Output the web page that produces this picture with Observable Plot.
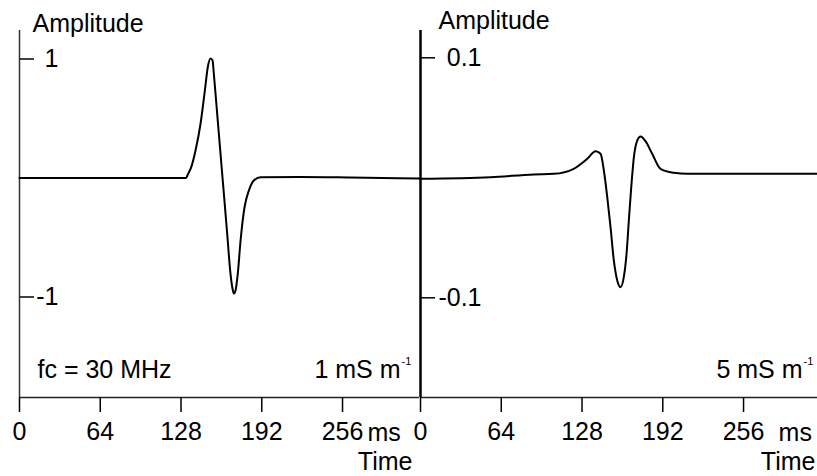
<!DOCTYPE html>
<html><head><meta charset="utf-8">
<script src="https://cdn.jsdelivr.net/npm/d3@7"></script>
<script src="https://cdn.jsdelivr.net/npm/@observablehq/plot@0.6"></script>
<style>
body{margin:0;background:#fff;}
#chart{position:relative;width:817px;height:476px;overflow:hidden;background:#fff;}
#chart svg{position:absolute;top:0;}
</style></head><body><div id="chart"></div>
<script>
// ---- data ----
const xTicks = [0, 64, 128, 192, 256];
const timeUnit = "ms";
const axisTitleY = "Amplitude";
const axisTitleX = "Time";

const leftTime = [0, 64.2, 103.8, 132.0, 133.4, 136.1, 139.5, 143.5, 146.9, 149.2, 151.4, 153.0, 154.0, 156.1, 158.0, 160.1, 162.5, 164.6, 167.2, 168.8, 169.9, 171.2, 173.0, 175.2, 178.3, 181.8, 185.7, 191.0, 222.7, 262.3, 317];
const leftAmp  = [0, 0, 0, 0, 0.03, 0.091, 0.231, 0.458, 0.735, 0.931, 1.004, 0.987, 0.878, 0.611, 0.37, 0.103, -0.2, -0.47, -0.803, -0.929, -0.971, -0.945, -0.803, -0.525, -0.248, -0.105, -0.021, 0.007, 0.008, 0.004, -0.004];
const leftYTicks = [-1, 1];
const leftNote = "fc = 30 MHz";
const leftCond = "1 mS m";

const rightTime = [0, 55.5, 89.8, 105.6, 121.4, 132.1, 138.7, 142.7, 145.3, 148.0, 150.6, 153.2, 155.9, 158.5, 161.1, 163.3, 165.1, 167.0, 169.1, 171.8, 174.4, 178.3, 183.6, 190.2, 200.8, 211.4, 314.6];
const rightAmp  = [-0.0008, 0.0005, 0.0028, 0.0033, 0.0075, 0.0158, 0.0222, 0.02, 0.0061, -0.0162, -0.0412, -0.0689, -0.0856, -0.0912, -0.0828, -0.0631, -0.0356, -0.0078, 0.0172, 0.0311, 0.0344, 0.0305, 0.02, 0.0075, 0.0042, 0.0033, 0.0033];
const rightYTicks = [-0.1, 0.1];
const rightCond = "5 mS m";
const condExp = "-1";

const font = "'Liberation Sans', Arial, Helvetica, sans-serif";

function panel(o) {
  const svg = Plot.plot({
    width: o.width, height: 476,
    marginTop: 30, marginBottom: 79, marginLeft: o.marginLeft, marginRight: o.marginRight,
    x: {domain: [0, o.xMax], axis: null},
    y: {domain: o.yDomain, axis: null},
    style: {fontFamily: font, fontSize: "25px", background: "transparent", overflow: "visible", color: "black"},
    marks: [
      Plot.ruleY([o.yDomain[0]], {stroke: "#222", strokeWidth: 1.5}),
      Plot.ruleX([0], {stroke: o.axisColor, strokeWidth: o.axisWidth}),
      Plot.axisX({ticks: xTicks, tickSize: 15, tickPadding: 10, strokeWidth: 1.5, label: null, tickFormat: d => String(d)}),
      Plot.axisY({anchor: "right", frameAnchor: "left", ticks: o.yTicks, tickSize: 14, tickPadding: o.yPad, textAnchor: "end", strokeWidth: 1.5, label: null, tickFormat: d => String(d)}),
      Plot.line(o.amp, {x: o.time, y: o.amp, stroke: "black", strokeWidth: 2, curve: "monotone-x"}),
      Plot.text([axisTitleY], {text: d => d, frameAnchor: "top-left", textAnchor: "start", lineAnchor: "bottom", dx: o.ampDx, dy: o.ampDy}),
      Plot.text([timeUnit], {text: d => d, x: xTicks[xTicks.length - 1], frameAnchor: "bottom", textAnchor: "start", lineAnchor: "bottom", dx: o.msDx, dy: 43}),
      Plot.text([axisTitleX], {text: d => d, frameAnchor: "bottom-right", textAnchor: "end", lineAnchor: "bottom", dx: o.timeDx, dy: o.timeDy}),
      o.note ? Plot.text([o.note], {text: d => d, frameAnchor: "bottom-left", textAnchor: "start", lineAnchor: "bottom", dx: 18, dy: -20}) : null,
      Plot.text([o.cond], {text: d => d, frameAnchor: "bottom-right", textAnchor: "end", lineAnchor: "bottom", dx: o.condDx, dy: -20}),
      Plot.text([condExp], {text: d => d, frameAnchor: "bottom-right", textAnchor: "start", lineAnchor: "bottom", dx: o.condDx + 1, dy: -33, fontSize: 11})
    ]
  });
  svg.style.left = o.left + "px";
  return svg;
}

const chart = document.getElementById("chart");
chart.appendChild(panel({
  left: 0, width: 420, marginLeft: 19, marginRight: 1, xMax: 317,
  time: leftTime, amp: leftAmp, yTicks: leftYTicks, yDomain: [-1.8445, 1.2395],
  axisColor: "#333", axisWidth: 1.5, yPad: 25,
  ampDx: 13, ampDy: 1, msDx: 25, timeDx: -7, timeDy: 72,
  note: leftNote, cond: leftCond, condDx: -19
}));
chart.appendChild(panel({
  left: 400, width: 417, marginLeft: 20, marginRight: 0, xMax: 314.6,
  time: rightTime, amp: rightAmp, yTicks: rightYTicks, yDomain: [-0.18308, 0.12275],
  axisColor: "#000", axisWidth: 2.5, yPad: 47,
  ampDx: 18, ampDy: -2, msDx: 35, timeDx: -2, timeDy: 72,
  note: null, cond: rightCond, condDx: -15
}));
</script></body></html>
